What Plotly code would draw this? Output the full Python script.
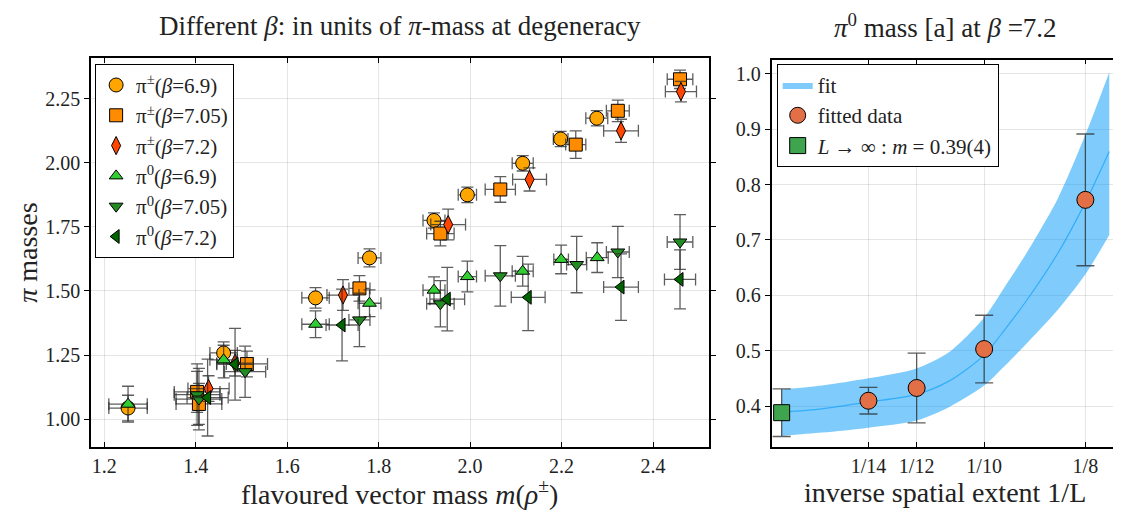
import plotly.graph_objects as go

# ---------------- left panel data ----------------
# pi^{+-} beta=6.9 (circles)
a_x = [1.252, 1.461, 1.662, 1.780, 1.921, 1.994, 2.115, 2.198, 2.277]
a_y = [1.043, 1.258, 1.473, 1.629, 1.775, 1.875, 1.998, 2.093, 2.174]
a_xe = [0.042, 0.030, 0.030, 0.025, 0.024, 0.020, 0.023, 0.016, 0.024]
a_ye = [0.050, 0.030, 0.040, 0.035, 0.030, 0.030, 0.030, 0.030, 0.030]
# pi^{+-} beta=7.05 (squares)
b_x = [1.403, 1.407, 1.512, 1.758, 1.935, 2.066, 2.231, 2.323, 2.459]
b_y = [1.106, 1.059, 1.215, 1.510, 1.724, 1.896, 2.071, 2.203, 2.326]
b_xe = [0.050, 0.050, 0.045, 0.023, 0.030, 0.033, 0.022, 0.025, 0.028]
b_ye = [0.080, 0.080, 0.050, 0.050, 0.048, 0.050, 0.054, 0.042, 0.036]
# pi^{+-} beta=7.2 (diamonds)
c_x = [1.428, 1.486, 1.722, 1.952, 2.130, 2.330, 2.461]
c_y = [1.119, 1.218, 1.484, 1.759, 1.935, 2.125, 2.278]
c_xe = [0.045, 0.040, 0.035, 0.038, 0.037, 0.038, 0.034]
c_ye = [0.050, 0.050, 0.060, 0.060, 0.045, 0.045, 0.040]
# pi^0 beta=6.9 (up triangles)
d_x = [1.252, 1.461, 1.662, 1.780, 1.921, 1.994, 2.115, 2.199, 2.278]
d_y = [1.058, 1.231, 1.370, 1.452, 1.503, 1.556, 1.577, 1.623, 1.630]
d_xe = [0.042, 0.030, 0.030, 0.025, 0.024, 0.020, 0.023, 0.016, 0.024]
d_ye = [0.070, 0.070, 0.052, 0.052, 0.052, 0.060, 0.058, 0.056, 0.058]
# pi^0 beta=7.05 (down triangles)
e_x = [1.403, 1.407, 1.508, 1.758, 1.935, 2.066, 2.233, 2.323, 2.459]
e_y = [1.095, 1.078, 1.185, 1.387, 1.450, 1.559, 1.603, 1.652, 1.691]
e_xe = [0.050, 0.050, 0.045, 0.023, 0.030, 0.033, 0.022, 0.025, 0.028]
e_ye = [0.120, 0.120, 0.100, 0.104, 0.090, 0.118, 0.110, 0.100, 0.107]
# pi^0 beta=7.2 (left triangles)
f_x = [1.426, 1.486, 1.720, 1.950, 2.127, 2.330, 2.459]
f_y = [1.084, 1.214, 1.367, 1.468, 1.475, 1.515, 1.545]
f_xe = [0.045, 0.040, 0.035, 0.038, 0.037, 0.038, 0.034]
f_ye = [0.150, 0.140, 0.140, 0.124, 0.130, 0.130, 0.115]

series_names = [
    "π<sup>±</sup>(<i>β</i>=6.9)",
    "π<sup>±</sup>(<i>β</i>=7.05)",
    "π<sup>±</sup>(<i>β</i>=7.2)",
    "π<sup>0</sup>(<i>β</i>=6.9)",
    "π<sup>0</sup>(<i>β</i>=7.05)",
    "π<sup>0</sup>(<i>β</i>=7.2)",
]

left_ticks_x = [1.2, 1.4, 1.6, 1.8, 2.0, 2.2, 2.4]
left_ticks_y = [1.00, 1.25, 1.50, 1.75, 2.00, 2.25]

# ---------------- right panel data ----------------
r_x = [1 / 14, 1 / 12, 1 / 10, 1 / 8]
r_y = [0.4096, 0.4326, 0.503, 0.7725]
r_ye = [0.024, 0.063, 0.061, 0.119]
inf_x = [0.050]
inf_y = [0.388]
inf_ye = [0.043]
right_tick_text = ["1/14", "1/12", "1/10", "1/8"]

# fit band
band_x = [0.050, 0.060, 0.0714, 0.0833, 0.0913, 0.100, 0.1053, 0.1106, 0.1182, 0.125, 0.1309]
band_c = [0.389, 0.395, 0.407, 0.421, 0.445, 0.492, 0.540, 0.592, 0.676, 0.768, 0.860]
band_hi = [0.430, 0.437, 0.450, 0.468, 0.497, 0.560, 0.618, 0.678, 0.775, 0.890, 1.003]
band_lo = [0.346, 0.352, 0.361, 0.374, 0.398, 0.437, 0.474, 0.514, 0.574, 0.638, 0.709]

FONT = "Liberation Serif"
ERRC = "rgba(40,40,40,0.75)"
TXT = "#222"

fig = go.Figure()

styles = [
    (a_x, a_y, a_xe, a_ye, "circle", "#FFA500", 14),
    (b_x, b_y, b_xe, b_ye, "square", "#FF8C00", 13),
    (c_x, c_y, c_xe, c_ye, "diamond-tall", "#FF4500", 13),
    (d_x, d_y, d_xe, d_ye, "triangle-up", "#32CD32", 12),
    (e_x, e_y, e_xe, e_ye, "triangle-down", "#228B22", 12),
    (f_x, f_y, f_xe, f_ye, "triangle-left", "#006400", 12),
]
for (xs, ys, xe, ye, sym, col, sz), nm in zip(styles, series_names):
    fig.add_trace(go.Scatter(
        x=xs, y=ys, mode="markers", name=nm,
        marker=dict(symbol=sym, color=col, size=sz, line=dict(color="black", width=1)),
        error_x=dict(type="data", array=xe, color=ERRC, thickness=1.3, width=6),
        error_y=dict(type="data", array=ye, color=ERRC, thickness=1.3, width=6),
        xaxis="x", yaxis="y", legend="legend",
    ))

# right panel
fig.add_trace(go.Scatter(
    x=band_x, y=band_lo, mode="lines",
    line=dict(width=0, shape="spline", smoothing=0.8, color="rgba(0,154,250,0.5)"),
    showlegend=False, hoverinfo="skip", xaxis="x2", yaxis="y2", legend="legend2",
))
fig.add_trace(go.Scatter(
    x=band_x, y=band_hi, mode="lines",
    line=dict(width=0, shape="spline", smoothing=0.8, color="rgba(0,154,250,0.5)"),
    fill="tonexty", fillcolor="rgba(0,154,250,0.5)", name="fit",
    xaxis="x2", yaxis="y2", legend="legend2",
))
fig.add_trace(go.Scatter(
    x=band_x, y=band_c, mode="lines",
    line=dict(width=1.2, shape="spline", smoothing=0.8, color="rgba(0,154,250,0.6)"),
    showlegend=False, xaxis="x2", yaxis="y2", legend="legend2",
))
fig.add_trace(go.Scatter(
    x=r_x, y=r_y, mode="markers", name="fitted data",
    marker=dict(symbol="circle", color="#E36F47", size=17, line=dict(color="black", width=1)),
    error_y=dict(type="data", array=r_ye, color=ERRC, thickness=1.3, width=9),
    xaxis="x2", yaxis="y2", legend="legend2",
))
fig.add_trace(go.Scatter(
    x=inf_x, y=inf_y, mode="markers", name="<i>L</i> → ∞ : <i>m</i> = 0.39(4)",
    marker=dict(symbol="square", color="#3EA44E", size=16, line=dict(color="black", width=1)),
    error_y=dict(type="data", array=inf_ye, color=ERRC, thickness=1.3, width=9),
    xaxis="x2", yaxis="y2", legend="legend2",
))

axis_common = dict(
    showline=True, linecolor="black", linewidth=1.5, mirror="ticks",
    showgrid=True, gridcolor="rgba(0,0,0,0.1)", gridwidth=1,
    zeroline=False, ticklen=5, tickcolor="black",
    tickfont=dict(family=FONT, size=20, color=TXT),
)

fig.update_layout(
    width=1121, height=514,
    margin=dict(l=83, r=3, t=50, b=75),
    paper_bgcolor="white", plot_bgcolor="white",
    font=dict(family=FONT, color=TXT),
    xaxis=dict(domain=[0, 0.601], range=[1.171, 2.522], tickvals=left_ticks_x,
               ticktext=[f"{v:.1f}" for v in left_ticks_x], ticks="inside", anchor="y", **axis_common),
    yaxis=dict(domain=[0, 1], range=[0.891, 2.409], tickvals=left_ticks_y,
               ticktext=[f"{v:.2f}" for v in left_ticks_y], ticks="outside", anchor="x", **axis_common),
    xaxis2=dict(domain=[0.662, 1.0], range=[0.0475, 0.1333], tickvals=r_x,
                ticktext=right_tick_text, ticks="inside", anchor="y2", **axis_common),
    yaxis2=dict(domain=[0, 0.996], range=[0.326, 1.026], tickvals=[0.4, 0.5, 0.6, 0.7, 0.8, 0.9, 1.0],
                ticktext=["0.4", "0.5", "0.6", "0.7", "0.8", "0.9", "1.0"], ticks="outside",
                anchor="x2", **axis_common),
    legend=dict(x=0.004, y=0.985, xanchor="left", yanchor="top", bgcolor="white",
                bordercolor="black", borderwidth=1, font=dict(family=FONT, size=21, color=TXT),
                tracegroupgap=0, itemwidth=30, traceorder="normal"),
    legend2=dict(x=0.667, y=0.985, xanchor="left", yanchor="top", bgcolor="white",
                 bordercolor="black", borderwidth=1, font=dict(family=FONT, size=21, color=TXT),
                 itemwidth=30, traceorder="normal", tracegroupgap=0),
    showlegend=True,
    annotations=[
        dict(text="Different <i>β</i>: in units of <i>π</i>-mass at degeneracy", x=0.3005, y=1.083,
             xref="paper", yref="paper", showarrow=False, font=dict(family=FONT, size=27, color=TXT),
             xanchor="center", yanchor="middle"),
        dict(text="<i>π</i><sup>0</sup> mass [a] at <i>β</i> =7.2", x=0.8309, y=1.083,
             xref="paper", yref="paper", showarrow=False, font=dict(family=FONT, size=27, color=TXT),
             xanchor="center", yanchor="middle"),
        dict(text="flavoured vector mass <i>m</i>(<i>ρ</i><sup>±</sup>)", x=0.3005, y=-0.118,
             xref="paper", yref="paper", showarrow=False, font=dict(family=FONT, size=28, color=TXT),
             xanchor="center", yanchor="middle"),
        dict(text="inverse spatial extent 1/L", x=0.8309, y=-0.118,
             xref="paper", yref="paper", showarrow=False, font=dict(family=FONT, size=28, color=TXT),
             xanchor="center", yanchor="middle"),
        dict(text="<i>π</i> masses", x=-0.062, y=0.5, textangle=-90,
             xref="paper", yref="paper", showarrow=False, font=dict(family=FONT, size=28, color=TXT),
             xanchor="center", yanchor="middle"),
    ],
)

fig.write_html("out.html")
